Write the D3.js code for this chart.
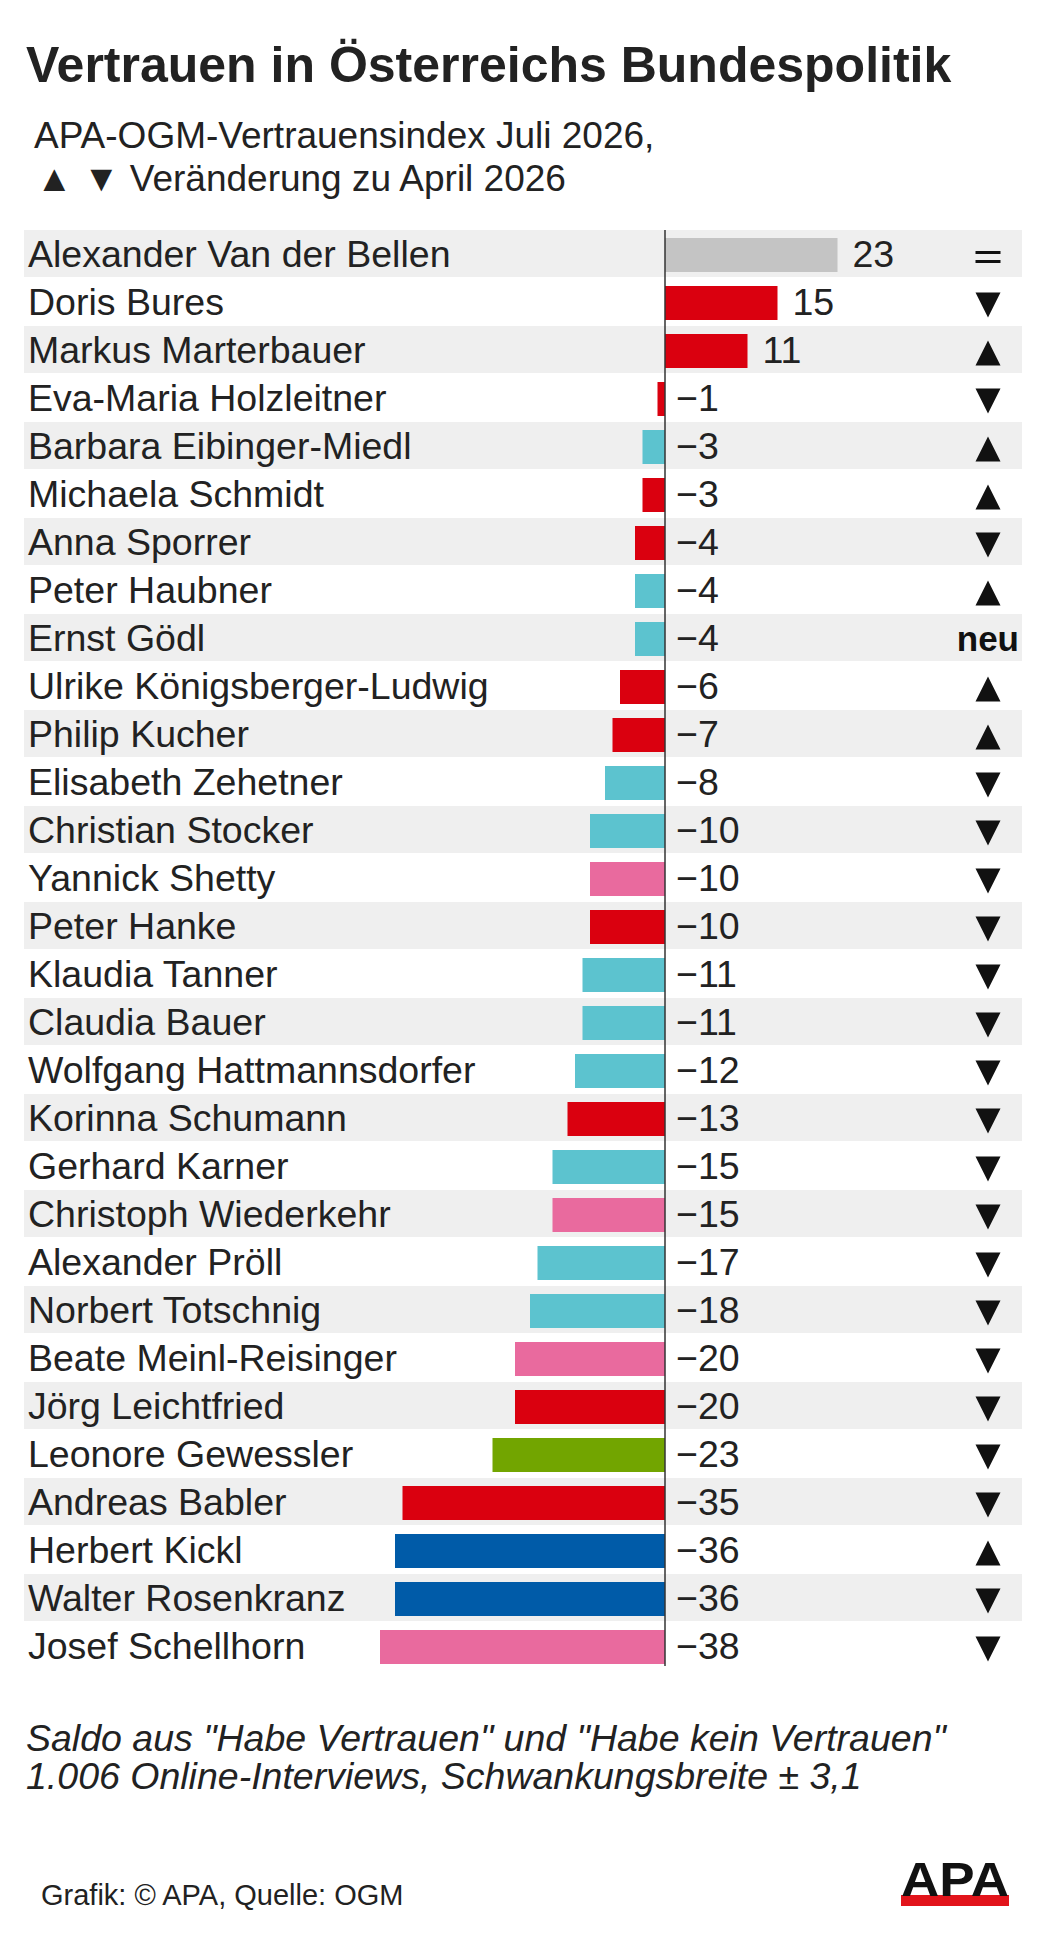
<!DOCTYPE html>
<html>
<head>
<meta charset="utf-8">
<script src="https://cdn.jsdelivr.net/npm/d3@7"></script>
<style>
  body { margin: 0; background: #fff; }
  svg { display: block; font-family: "Liberation Sans", Arial, Helvetica, sans-serif; }
</style>
</head>
<body>
<div id="chart"></div>
<script>
var names = [
  "Alexander Van der Bellen", "Doris Bures", "Markus Marterbauer", "Eva-Maria Holzleitner",
  "Barbara Eibinger-Miedl", "Michaela Schmidt", "Anna Sporrer", "Peter Haubner", "Ernst Gödl",
  "Ulrike Königsberger-Ludwig", "Philip Kucher", "Elisabeth Zehetner", "Christian Stocker",
  "Yannick Shetty", "Peter Hanke", "Klaudia Tanner", "Claudia Bauer", "Wolfgang Hattmannsdorfer",
  "Korinna Schumann", "Gerhard Karner", "Christoph Wiederkehr", "Alexander Pröll",
  "Norbert Totschnig", "Beate Meinl-Reisinger", "Jörg Leichtfried", "Leonore Gewessler",
  "Andreas Babler", "Herbert Kickl", "Walter Rosenkranz", "Josef Schellhorn"
];
var values = [23, 15, 11, -1, -3, -3, -4, -4, -4, -6, -7, -8, -10, -10, -10, -11, -11, -12, -13,
  -15, -15, -17, -18, -20, -20, -23, -35, -36, -36, -38];
var parties = ["none", "spoe", "spoe", "spoe", "oevp", "spoe", "spoe", "oevp", "oevp", "spoe",
  "spoe", "oevp", "oevp", "neos", "spoe", "oevp", "oevp", "oevp", "spoe", "oevp", "neos", "oevp",
  "oevp", "neos", "spoe", "gruene", "spoe", "fpoe", "fpoe", "neos"];
// change vs. April: up, down, same, new
var trends = ["same", "down", "up", "down", "up", "up", "down", "up", "new", "up", "up", "down",
  "down", "down", "down", "down", "down", "down", "down", "down", "down", "down", "down", "down",
  "down", "down", "down", "up", "down", "down"];

var partyColors = {
  none: "#c4c4c4", spoe: "#da000f", oevp: "#5cc3cf", neos: "#e96a9e",
  gruene: "#72a500", fpoe: "#005ba8"
};

var width = 1039, height = 1934;
var textColor = "#222";

var data = names.map(function(n, i) {
  return {name: n, value: values[i], party: parties[i], trend: trends[i]};
});

var svg = d3.select("#chart").append("svg")
  .attr("width", width)
  .attr("height", height)
  .attr("viewBox", [0, 0, width, height]);

// title + subtitle
svg.append("text")
  .attr("x", 26).attr("y", 82)
  .attr("font-size", 50).attr("font-weight", "bold")
  .attr("fill", textColor)
  .text("Vertrauen in Österreichs Bundespolitik");

svg.append("text")
  .attr("x", 34).attr("y", 148)
  .attr("font-size", 37).attr("fill", textColor)
  .text("APA-OGM-Vertrauensindex Juli 2026,");
svg.append("text")
  .attr("x", 36).attr("y", 191)
  .attr("font-size", 37).attr("fill", textColor)
  .text("▲ ▼ Veränderung zu April 2026");

// scales
var rowTop = 230, rowH = 48;
var y = d3.scaleBand()
  .domain(names)
  .range([rowTop, rowTop + rowH * names.length]);
var x = d3.scaleLinear()
  .domain([-40, 30])
  .range([365, 890]);   // 7.5 px per point, zero at 665

// zebra rows
svg.append("g")
  .selectAll("rect")
  .data(data.filter(function(d, i) { return i % 2 === 0; }))
  .join("rect")
    .attr("x", 24)
    .attr("y", function(d) { return y(d.name); })
    .attr("width", 1022 - 24)
    .attr("height", y.bandwidth() - 1)
    .attr("fill", "#efefef");

// bars
var barH = 34;
svg.append("g")
  .selectAll("rect")
  .data(data)
  .join("rect")
    .attr("x", function(d) { return x(Math.min(0, d.value)); })
    .attr("y", function(d) { return y(d.name) + (y.bandwidth() - barH) / 2 + 1; })
    .attr("width", function(d) { return Math.abs(x(d.value) - x(0)); })
    .attr("height", barH)
    .attr("fill", function(d) { return partyColors[d.party]; });

// zero line
svg.append("line")
  .attr("x1", x(0)).attr("x2", x(0))
  .attr("y1", rowTop).attr("y2", y.range()[1] - 4)
  .attr("stroke", "#333").attr("stroke-width", 1.5);

// names
svg.append("g")
  .selectAll("text")
  .data(data)
  .join("text")
    .attr("x", 28)
    .attr("y", function(d) { return y(d.name) + y.bandwidth() / 2 + 13; })
    .attr("font-size", 37.5)
    .attr("fill", textColor)
    .text(function(d) { return d.name; });

// values
svg.append("g")
  .selectAll("text")
  .data(data)
  .join("text")
    .attr("x", function(d) { return d.value > 0 ? x(d.value) + 15 : x(0) + 11; })
    .attr("y", function(d) { return y(d.name) + y.bandwidth() / 2 + 13; })
    .attr("font-size", 37.5)
    .attr("fill", textColor)
    .text(function(d) { return d.value < 0 ? "\u2212" + Math.abs(d.value) : d.value; });

// trend markers
var ax = 988, half = 12.5;
var trendG = svg.append("g");
data.forEach(function(d) {
  var cy = y(d.name) + y.bandwidth() / 2 + 3;
  if (d.trend === "up") {
    trendG.append("path")
      .attr("d", "M" + (ax - half) + "," + (cy + half) + "L" + (ax + half) + "," + (cy + half) + "L" + ax + "," + (cy - half) + "Z")
      .attr("fill", "#111");
  } else if (d.trend === "down") {
    trendG.append("path")
      .attr("d", "M" + (ax - half) + "," + (cy - half) + "L" + (ax + half) + "," + (cy - half) + "L" + ax + "," + (cy + half) + "Z")
      .attr("fill", "#111");
  } else if (d.trend === "same") {
    [-4.5, 4.5].forEach(function(off) {
      trendG.append("rect")
        .attr("x", ax - half).attr("y", cy + off - 1.5)
        .attr("width", half * 2).attr("height", 3)
        .attr("fill", "#111");
    });
  } else {
    trendG.append("text")
      .attr("x", 1019).attr("y", cy + 10)
      .attr("text-anchor", "end")
      .attr("font-size", 35).attr("font-weight", "bold")
      .attr("fill", "#111")
      .text("neu");
  }
});

// footnote
svg.append("text")
  .attr("x", 26).attr("y", 1751)
  .attr("font-size", 37.5).attr("font-style", "italic")
  .attr("fill", textColor)
  .text("Saldo aus \"Habe Vertrauen\" und \"Habe kein Vertrauen\"");
svg.append("text")
  .attr("x", 26).attr("y", 1789)
  .attr("font-size", 37.5).attr("font-style", "italic")
  .attr("fill", textColor)
  .text("1.006 Online-Interviews, Schwankungsbreite ± 3,1");

// source
svg.append("text")
  .attr("x", 41).attr("y", 1905)
  .attr("font-size", 29)
  .attr("fill", textColor)
  .text("Grafik: © APA, Quelle: OGM");

// APA logo
svg.append("rect")
  .attr("x", 901).attr("y", 1895)
  .attr("width", 108).attr("height", 11)
  .attr("fill", "#e2141b");
svg.append("text")
  .attr("x", 901).attr("y", 1896)
  .attr("font-size", 48).attr("font-weight", "bold")
  .attr("textLength", 108).attr("lengthAdjust", "spacingAndGlyphs")
  .attr("fill", "#111")
  .text("APA");
</script>
</body>
</html>
